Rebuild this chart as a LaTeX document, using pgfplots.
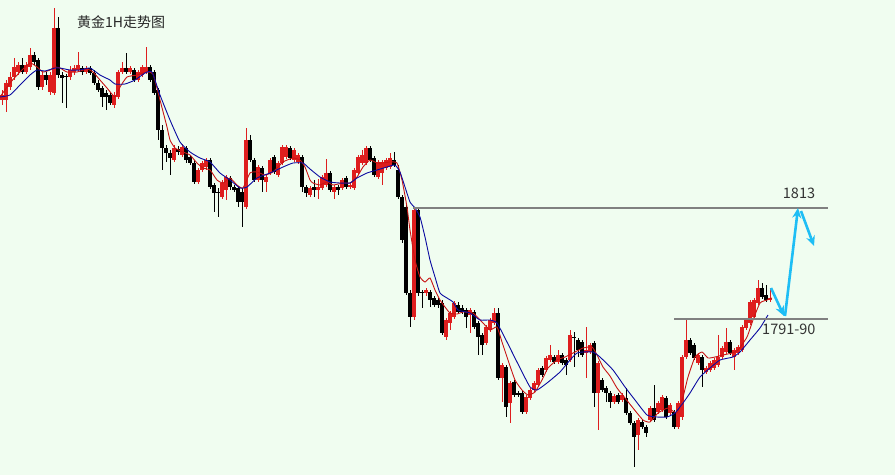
\documentclass[border=0pt]{standalone}
\usepackage{pgfplots}
\pgfplotsset{compat=1.18}
\usepackage{pgfplotstable}
\usepackage{fontspec}
\setmainfont{Noto Sans CJK SC}
\usetikzlibrary{arrows.meta}
\definecolor{bgc}{RGB}{240,253,240}
\definecolor{cred}{RGB}{222,30,30}
\definecolor{mared}{RGB}{200,20,20}
\definecolor{mablue}{RGB}{10,10,160}
\definecolor{lgray}{RGB}{128,128,128}
\definecolor{arrowc}{RGB}{30,190,245}
% columns: x, body top, body bottom, wick top, wick bottom (pixel rows, top = 0)
\pgfplotstableread{
x bt bb wt wb
2 95 100 90 105
6 83 100 80 112
10 77 87 72 90
14 67 77 58 80
18 65 72 62 75
26 65 72 62 74
30 55 67 48 70
42 75 87 72 90
50 75 92 72 95
54 28 93 8 95
70 70 77 66 80
74 68 72 65 75
78 65 70 52 72
86 68 72 66 74
114 95 105 92 108
118 72 97 70 99
122 68 72 62 74
130 68 72 66 74
138 72 80 70 82
142 67 75 65 77
146 67 72 47 74
174 148 160 145 162
182 147 155 144 157
198 170 182 168 184
202 163 170 161 172
206 160 167 158 170
222 183 197 180 199
226 177 190 175 200
246 140 207 128 209
258 167 180 165 182
266 177 182 175 192
270 160 173 158 175
278 163 175 161 177
282 147 163 145 165
286 147 157 145 159
294 150 160 148 162
298 155 162 153 164
310 188 195 186 197
318 187 190 179 199
322 177 188 175 190
326 173 185 159 187
334 187 192 185 199
342 180 188 178 190
350 185 187 183 189
354 170 188 168 190
358 157 173 155 175
362 155 163 150 165
366 148 163 146 165
378 162 177 160 179
382 162 173 160 185
386 160 168 158 170
390 158 167 153 169
414 210 317 208 320
426 290 293 288 296
446 320 337 318 340
450 313 323 311 330
454 303 317 301 319
470 310 315 308 333
486 327 343 325 345
490 320 330 318 332
494 313 323 308 325
502 365 378 363 402
510 383 403 381 423
526 397 412 395 414
530 390 398 388 400
534 383 390 381 392
538 370 385 368 387
546 358 370 356 372
550 355 360 345 362
558 355 362 350 364
570 335 360 330 362
586 350 353 327 378
590 345 352 343 354
598 363 393 361 430
614 396 402 394 404
622 395 400 393 402
638 420 435 418 450
650 408 420 406 422
658 403 412 401 414
662 397 410 395 412
670 405 413 403 415
678 403 427 401 429
682 357 417 355 420
686 340 357 318 359
698 355 363 353 365
706 368 372 366 374
710 363 370 361 372
714 360 368 358 370
718 357 365 335 367
722 348 357 346 359
726 342 352 328 354
734 350 357 348 370
738 347 353 345 355
742 327 350 325 352
746 320 328 318 330
750 302 323 300 325
754 300 317 298 319
758 288 303 280 305
770 298 300 288 302
}\redtab
\pgfplotstableread{
x bt bb wt wb
22 65 72 58 74
34 55 62 52 65
38 60 87 58 90
46 75 80 72 85
58 28 75 17 78
62 75 78 72 103
66 76 77 74 108
82 68 72 66 75
90 68 73 66 75
94 73 83 70 85
98 83 90 80 92
102 88 97 86 107
106 93 97 90 110
110 95 103 92 105
126 68 72 53 74
134 70 80 68 82
150 67 80 65 82
154 72 93 70 95
158 90 130 88 140
162 130 148 125 170
166 148 153 145 162
170 153 158 150 175
178 149 152 146 155
186 148 160 146 163
190 157 163 155 165
194 163 182 160 184
210 160 187 158 189
214 185 193 183 212
218 192 193 188 217
230 178 187 176 190
234 187 190 185 192
238 188 202 186 207
242 192 202 188 227
250 140 160 135 162
254 160 180 158 182
262 168 180 166 192
274 157 172 155 174
290 148 158 146 160
302 157 187 155 192
306 187 193 185 197
314 187 190 180 197
330 173 190 171 192
338 187 190 185 195
346 178 187 176 189
370 148 160 146 162
374 158 175 156 177
394 160 165 152 167
398 170 197 165 199
402 197 240 195 243
406 207 293 205 295
410 293 317 290 327
418 210 293 208 296
422 292 293 290 308
430 292 300 290 307
434 298 305 296 307
438 300 305 298 308
442 303 333 300 335
458 305 312 302 314
462 308 312 305 314
466 310 317 308 328
474 312 327 310 329
478 323 337 321 355
482 335 345 333 355
498 313 378 308 380
506 367 407 365 417
514 382 395 380 397
518 393 395 391 397
522 393 412 391 414
542 368 375 366 377
554 357 362 355 364
562 355 363 353 365
566 360 365 358 375
574 337 338 332 367
578 340 350 338 357
582 342 355 340 357
594 343 393 341 407
602 380 390 378 392
606 388 393 386 402
610 393 402 391 408
618 395 402 393 404
626 398 413 388 415
630 413 423 411 425
634 423 437 421 467
642 422 427 420 429
646 427 433 425 437
654 408 420 385 422
666 398 417 396 419
674 412 427 410 429
690 340 353 338 355
694 345 358 343 360
702 357 370 355 387
730 342 353 340 355
762 288 297 283 299
766 295 300 285 302
}\blacktab
\begin{document}
\begin{tikzpicture}
\begin{axis}[
  scale only axis, width=895pt, height=475pt,
  xmin=0, xmax=895, ymin=0, ymax=475, y dir=reverse,
  axis line style={draw=none}, xtick=\empty, ytick=\empty,
  axis background/.style={fill=bgc},
]
% wicks
\addplot[color=cred, draw=none, mark=none, error bars/.cd, y dir=plus, y explicit, error mark=none,
  error bar style={line width=1pt, draw=cred, solid}]
  table[x=x, y=wt, y error expr={\thisrow{wb}-\thisrow{wt}}] {\redtab};
\addplot[color=black, draw=none, mark=none, error bars/.cd, y dir=plus, y explicit, error mark=none,
  error bar style={line width=1pt, draw=black, solid}]
  table[x=x, y=wt, y error expr={\thisrow{wb}-\thisrow{wt}}] {\blacktab};
% bodies
\addplot[color=cred, draw=none, mark=none, error bars/.cd, y dir=plus, y explicit, error mark=none,
  error bar style={line width=3.4pt, draw=cred, solid}]
  table[x=x, y=bt, y error expr={\thisrow{bb}-\thisrow{bt}}] {\redtab};
\addplot[color=black, draw=none, mark=none, error bars/.cd, y dir=plus, y explicit, error mark=none,
  error bar style={line width=3.4pt, draw=black, solid}]
  table[x=x, y=bt, y error expr={\thisrow{bb}-\thisrow{bt}}] {\blacktab};
% fast MA (red)
\addplot[mared, line width=0.9pt, smooth, tension=0.3] coordinates {
(0,97)(10,83)(20,72)(30,63)(37,67)(43,72)(50,70)(55,67)(60,68)(67,72)(77,72)(87,69)(93,72)
(100,80)(107,88)(115,97)(120,87)(127,77)(137,75)(147,72)(153,74)(160,100)(167,127)(170,140)
(175,148)(183,152)(190,155)(197,163)(203,168)(210,170)(217,180)(223,183)(230,178)(237,185)
(243,188)(250,173)(257,172)(265,175)(273,172)(283,162)(293,158)(300,160)(305,167)(310,180)
(313,183)(320,185)(327,182)(333,185)(343,183)(350,183)(357,177)(363,167)(370,160)(377,163)
(383,163)(390,162)(397,163)(402,180)(407,207)(410,230)(415,260)(420,277)(425,282)(430,278)
(435,290)(440,300)(445,307)(450,313)(457,314)(463,312)(473,313)(483,323)(490,330)(497,327)
(502,342)(508,360)(515,380)(522,390)(528,395)(535,392)(542,380)(548,368)(557,360)(565,357)
(575,352)(583,348)(592,347)(597,355)(603,367)(610,376)(617,388)(625,398)(633,408)(643,420)
(650,422)(658,413)(668,408)(677,413)(683,397)(688,377)(695,357)(702,352)(708,358)(715,357)
(723,355)(732,353)(738,350)(747,337)(753,320)(760,303)(767,300)(772,298)};
% slow MA (blue)
\addplot[mablue, line width=0.9pt, smooth, tension=0.3] coordinates {
(0,97)(10,95)(20,85)(30,75)(37,70)(45,71)(55,68)(60,68)(70,70)(80,70)(90,68)(100,75)(110,80)
(115,84)(125,84)(135,80)(145,73)(152,72)(160,95)(170,120)(180,142)(190,152)(200,158)(210,162)
(220,173)(230,180)(240,188)(247,187)(257,178)(270,173)(283,167)(293,163)(303,163)(310,169)
(320,177)(330,182)(340,183)(350,183)(357,178)(367,173)(377,170)(387,167)(395,165)(400,172)
(405,187)(410,202)(415,208)(420,217)(425,237)(430,260)(435,277)(440,293)(447,298)(453,302)
(458,310)(470,313)(480,320)(490,320)(497,323)(507,342)(517,362)(530,387)(537,390)(547,383)
(560,372)(570,360)(577,353)(583,352)(593,352)(600,357)(613,370)(625,387)(635,400)(647,415)
(657,417)(667,417)(675,413)(683,403)(690,393)(700,377)(710,368)(720,360)(733,357)(740,352)
(750,340)(760,328)(768,315)};
% horizontal levels
\addplot[lgray, line width=2pt] coordinates {(413,208)(828,208)};
\addplot[lgray, line width=2pt] coordinates {(674,319)(828,319)};
% projected path
\addplot[arrowc, line width=2.6pt, -{Stealth[length=10pt,width=9pt]}] coordinates {(771,288)(784,316)};
\addplot[arrowc, line width=2.6pt, -{Stealth[length=10pt,width=9pt]}] coordinates {(785,316)(798,208)};
\addplot[arrowc, line width=2.6pt, -{Stealth[length=10pt,width=9pt]}] coordinates {(801,211)(814,246)};
\node[font=\fontsize{14}{16}\selectfont, text=black!85, anchor=west, inner sep=0pt] at (axis cs:77,22) {黄金1H走势图};
\node[font=\fontsize{14.5}{16}\selectfont, text=black!80, inner sep=0pt] at (axis cs:799,193) {1813};
\node[font=\fontsize{14.5}{16}\selectfont, text=black!80, anchor=west, inner sep=0pt] at (axis cs:762,329) {1791-90};
\end{axis}
\end{tikzpicture}
\end{document}
